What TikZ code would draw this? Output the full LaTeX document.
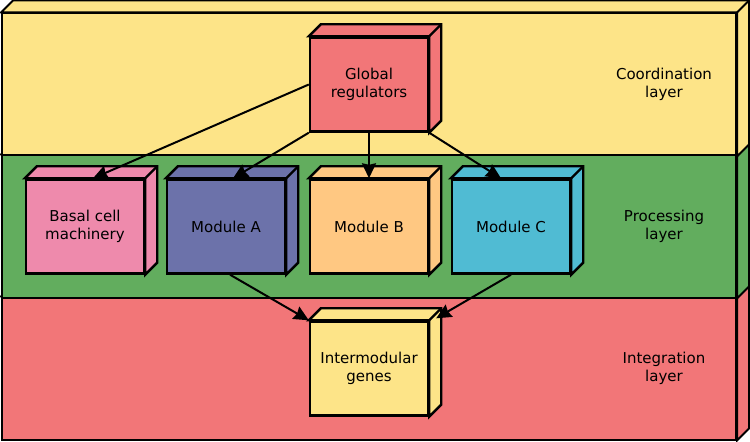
\documentclass[tikz,border=0pt]{standalone}
\usepackage{fontspec}
\setmainfont{DejaVu Sans}
\usetikzlibrary{calc}
\usetikzlibrary{arrows.meta}
\definecolor{coordyellow}{RGB}{253,228,136}
\definecolor{procgreen}{RGB}{98,173,94}
\definecolor{integred}{RGB}{242,118,120}
\definecolor{basalpink}{RGB}{238,138,172}
\definecolor{moduleblue}{RGB}{108,114,170}
\definecolor{moduleorange}{RGB}{255,200,130}
\definecolor{modulecyan}{RGB}{80,187,211}
\tikzstyle{layer}=[draw=black,line width=2bp,minimum width=734bp,minimum height=142bp,inner sep=0pt]
\tikzstyle{module}=[draw=black,line width=2.4bp,minimum width=118bp,minimum height=94bp,inner sep=0pt,align=center,font=\fontsize{15bp}{17.5bp}\selectfont]
\tikzstyle{layerlabel}=[align=center,font=\fontsize{15bp}{17.5bp}\selectfont]
\tikzstyle{regulation}=[line width=2bp,-{Stealth[length=15bp,width=14bp,inset=1.5bp]}]
\newcommand{\cubeside}[3][12]{% Syntax: [depth] {node name} {draw options}
  \filldraw[#3] (#2.north west) -- ++(#1,-#1) -- ($(#2.north east)+(#1,-#1)$) -- ($(#2.south east)+(#1,-#1)$) -- (#2.south east) -- (#2.north east) -- cycle;
  \draw[#3] (#2.north east) -- ++(#1,-#1);
}

\begin{document}
\begin{tikzpicture}[x=1bp,y=-1bp]
	\useasboundingbox (0,0) rectangle (750,442);
	% the three layers, lowest first
	\node[layer,fill=integred] (integration) at (369,368.5) {};
	\cubeside{integration}{line width=2bp,fill=integred}
	\node[layer,fill=procgreen] (processing) at (369,226.5) {};
	\cubeside{processing}{line width=2bp,fill=procgreen}
	\node[layer,fill=coordyellow] (coordination) at (369,84.5) {};
	\cubeside{coordination}{line width=2bp,fill=coordyellow}
	\node[layerlabel] (coordlabel) at (664,84.5) {Coordination\\layer};
	\node[layerlabel] (proclabel) at (664,226.5) {Processing\\layer};
	\node[layerlabel] (integlabel) at (664,368.5) {Integration\\layer};
	% the modules
	\node[module,fill=integred] (global) at (369,84.5) {Global\\regulators};
	\cubeside{global}{line width=2.4bp,fill=integred}
	\node[module,fill=basalpink] (basal) at (85,226.5) {Basal cell\\machinery};
	\cubeside{basal}{line width=2.4bp,fill=basalpink}
	\node[module,fill=moduleblue] (modA) at (226,226.5) {Module A};
	\cubeside{modA}{line width=2.4bp,fill=moduleblue}
	\node[module,fill=moduleorange] (modB) at (369,226.5) {Module B};
	\cubeside{modB}{line width=2.4bp,fill=moduleorange}
	\node[module,fill=modulecyan] (modC) at (511,226.5) {Module C};
	\cubeside{modC}{line width=2.4bp,fill=modulecyan}
	\node[module,fill=coordyellow] (intermod) at (369,368.5) {Intermodular\\genes};
	\cubeside{intermod}{line width=2.4bp,fill=coordyellow}
	% regulation arrows
	\draw[regulation] (global.west) -- ($(basal.north)+(8,0)$);
	\draw[regulation] (global.south west) -- ($(modA.north)+(7,0)$);
	\draw[regulation] (global.south) -- (modB.north);
	\draw[regulation] (global.south east) -- ($(modC.north)+(-10,0)$);
	\draw[regulation] ($(modA.south)+(4,0)$) -- (intermod.north west);
	\draw[regulation] (modC.south) -- ($(intermod.north east)+(7,-2)$);
\end{tikzpicture}
\end{document}
